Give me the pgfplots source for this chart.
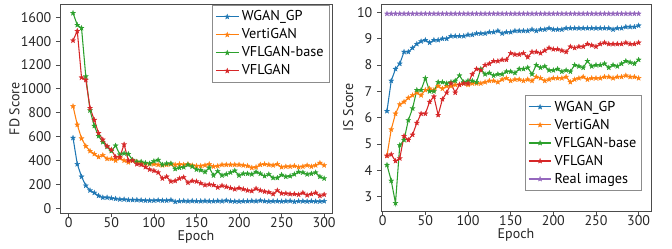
\documentclass[border=0pt]{standalone}
\usepackage{pgfplots}
\pgfplotsset{compat=1.18}
\usepackage{pgfplotstable}
\usepackage{fontspec}
\setmainfont{PT Sans}
\definecolor{c0}{HTML}{1F77B4}
\definecolor{c1}{HTML}{FF7F0E}
\definecolor{c2}{HTML}{2CA02C}
\definecolor{c3}{HTML}{D62728}
\definecolor{c4}{HTML}{9467BD}
\pgfdeclareplotmark{fstar}{%
  \pgfpathmoveto{\pgfpointpolar{90}{\pgfplotmarksize}}%
  \pgfpathlineto{\pgfpointpolar{126}{0.4\pgfplotmarksize}}%
  \pgfpathlineto{\pgfpointpolar{162}{\pgfplotmarksize}}%
  \pgfpathlineto{\pgfpointpolar{198}{0.4\pgfplotmarksize}}%
  \pgfpathlineto{\pgfpointpolar{234}{\pgfplotmarksize}}%
  \pgfpathlineto{\pgfpointpolar{270}{0.4\pgfplotmarksize}}%
  \pgfpathlineto{\pgfpointpolar{306}{\pgfplotmarksize}}%
  \pgfpathlineto{\pgfpointpolar{342}{0.4\pgfplotmarksize}}%
  \pgfpathlineto{\pgfpointpolar{18}{\pgfplotmarksize}}%
  \pgfpathlineto{\pgfpointpolar{54}{0.4\pgfplotmarksize}}%
  \pgfpathclose
  \pgfusepathqfillstroke}

\pgfplotstableread{
ep wgan verti base vfl
5 590 855 1635 1405
10 370 700 1535 1485
15 265 585 1510 1095
20 190 520 1105 1075
25 150 480 820 840
30 130 455 690 740
35 105 430 605 630
40 90 445 555 575
45 90 415 515 520
50 85 415 480 490
55 80 400 525 430
60 75 420 450 430
65 75 400 460 535
70 70 385 455 400
75 70 400 405 400
80 70 390 390 370
85 68 380 390 365
90 65 375 380 345
95 65 370 375 325
100 65 370 395 315
105 68 365 405 300
110 65 360 365 250
115 65 365 375 265
120 70 370 375 225
125 55 365 330 230
130 60 370 340 250
135 62 365 345 260
140 60 370 365 215
145 62 360 350 230
150 60 355 325 225
155 60 355 320 210
160 62 360 305 195
165 60 370 340 200
170 60 350 275 195
175 62 355 310 175
180 60 365 275 190
185 65 365 285 180
190 60 365 300 170
195 58 365 315 160
200 58 365 275 170
205 60 360 290 160
210 60 355 290 150
215 62 340 285 145
220 60 345 305 165
225 65 365 290 150
230 60 370 270 140
235 58 365 285 135
240 60 360 255 120
245 60 370 255 150
250 58 345 280 125
255 60 350 265 125
260 62 350 270 120
265 55 355 285 120
270 60 345 305 115
275 60 350 300 130
280 58 360 285 110
285 60 350 290 120
290 58 360 300 130
295 58 380 265 105
300 60 360 250 115
}\fdtable

\pgfplotstableread{
ep wgan verti base vfl real
5 6.25 4.55 4.2 4.55 9.95
10 7.4 5.55 3.6 4.6 9.95
15 7.85 6.15 2.75 4.35 9.95
20 8.05 6.5 4.95 4.45 9.95
25 8.5 6.6 5.15 5.3 9.95
30 8.5 6.75 5.9 5.15 9.95
35 8.65 6.85 6.35 5.35 9.95
40 8.8 6.95 7.05 5.8 9.95
45 8.9 6.85 7.05 6.15 9.95
50 8.95 7.05 7.5 6.15 9.95
55 8.85 7.1 7.0 6.6 9.95
60 8.95 7.05 7.0 6.8 9.95
65 8.95 7.2 7.35 6.1 9.95
70 9.0 7.1 7.35 6.7 9.95
75 9.0 7.2 7.3 6.95 9.95
80 9.1 7.2 7.35 7.3 9.95
85 9.1 7.25 7.4 6.95 9.95
90 9.1 7.25 7.6 7.25 9.95
95 9.1 7.3 7.35 7.3 9.95
100 9.15 7.25 7.4 7.3 9.95
105 9.15 7.3 7.4 7.65 9.95
110 9.2 7.3 7.35 7.85 9.95
115 9.2 7.3 7.85 7.8 9.95
120 9.2 7.35 7.65 8.0 9.95
125 9.25 7.4 7.7 8.05 9.95
130 9.25 7.4 7.6 8.15 9.95
135 9.3 7.35 7.65 8.15 9.95
140 9.2 7.45 7.65 8.2 9.95
145 9.25 7.5 7.75 8.2 9.95
150 9.25 7.4 7.75 8.45 9.95
155 9.3 7.45 7.7 8.4 9.95
160 9.3 7.45 7.85 8.4 9.95
165 9.3 7.4 7.85 8.45 9.95
170 9.3 7.45 7.9 8.3 9.95
175 9.35 7.4 7.65 8.5 9.95
180 9.3 7.55 8.0 8.5 9.95
185 9.35 7.5 7.9 8.45 9.95
190 9.35 7.4 7.95 8.55 9.95
195 9.4 7.45 7.8 8.65 9.95
200 9.35 7.5 7.8 8.6 9.95
205 9.35 7.5 7.85 8.6 9.95
210 9.35 7.5 7.75 8.55 9.95
215 9.4 7.55 7.8 8.5 9.95
220 9.4 7.35 7.75 8.7 9.95
225 9.4 7.45 8.0 8.65 9.95
230 9.4 7.5 7.95 8.7 9.95
235 9.4 7.55 7.9 8.7 9.95
240 9.4 7.45 8.15 8.8 9.95
245 9.4 7.5 7.95 8.75 9.95
250 9.4 7.5 8.0 8.7 9.95
255 9.4 7.5 8.0 8.8 9.95
260 9.4 7.55 8.05 8.85 9.95
265 9.4 7.55 7.9 8.8 9.95
270 9.35 7.5 8.0 8.8 9.95
275 9.4 7.55 7.95 8.8 9.95
280 9.4 7.55 8.05 8.8 9.95
285 9.45 7.6 8.15 8.85 9.95
290 9.45 7.55 8.1 8.8 9.95
295 9.45 7.55 8.05 8.8 9.95
300 9.5 7.5 8.2 8.85 9.95
}\istable

\pgfplotsset{
  myaxis/.style={
    scale only axis,
    axis line style={black!70, line width=0.6pt},
    tick style={black!70, line width=0.6pt},
    tick align=outside,
    major tick length=3pt,
    xtick pos=left, ytick pos=left,
    xtick={0,50,100,150,200,250,300},
    /pgf/number format/assume math mode=true,
    /pgf/number format/1000 sep={},
    tick label style={font=\fontsize{10.5}{11}\selectfont, black!85},
    xticklabel style={inner sep=1pt, yshift=1pt},
    label style={font=\fontsize{10.5}{11}\selectfont, black!85},
    xlabel={Epoch},
    xlabel style={inner sep=1pt, yshift=0pt},
    legend style={font=\fontsize{10.7}{12}\selectfont, draw=black!45, line width=0.5pt, inner sep=2pt, row sep=0.4pt, cells={anchor=west}},
    legend cell align=left,
    every axis plot/.append style={line width=0.8pt, mark=fstar, mark size=2pt},
  },
  ser/.style={color=#1, mark options={fill=#1, draw=#1, line width=0.2pt}},
}

\begin{document}
\begin{tikzpicture}
\useasboundingbox (0,0) rectangle (504pt,186.75pt);
\begin{axis}[myaxis,
  at={(45pt,26.75pt)}, anchor=south west,
  width=204pt, height=157pt,
  xmin=-10.3, xmax=309.2, ymin=-42, ymax=1711,
  ytick={0,200,...,1600},
  ylabel={FD Score},
  ylabel style={yshift=-6pt},
  legend style={at={(0.99,0.995)}, anchor=north east},
]
\addplot[ser=c0] table[x=ep, y=wgan] {\fdtable};
\addlegendentry{WGAN\_GP}
\addplot[ser=c1] table[x=ep, y=verti] {\fdtable};
\addlegendentry{VertiGAN}
\addplot[ser=c2] table[x=ep, y=base] {\fdtable};
\addlegendentry{VFLGAN-base}
\addplot[ser=c3] table[x=ep, y=vfl] {\fdtable};
\addlegendentry{VFLGAN}
\end{axis}
\begin{axis}[myaxis,
  at={(285.75pt,28.5pt)}, anchor=south west,
  width=202.5pt, height=155.25pt,
  xmin=-2, xmax=314.5, ymin=2.45, ymax=10.32,
  ytick={3,4,...,10},
  ylabel={IS Score},
  ylabel style={yshift=-4pt},
  legend style={at={(0.967,0.098)}, anchor=south east},
]
\addplot[ser=c0] table[x=ep, y=wgan] {\istable};
\addlegendentry{WGAN\_GP}
\addplot[ser=c1] table[x=ep, y=verti] {\istable};
\addlegendentry{VertiGAN}
\addplot[ser=c2] table[x=ep, y=base] {\istable};
\addlegendentry{VFLGAN-base}
\addplot[ser=c3] table[x=ep, y=vfl] {\istable};
\addlegendentry{VFLGAN}
\addplot[ser=c4] table[x=ep, y=real] {\istable};
\addlegendentry{Real images}
\end{axis}
\end{tikzpicture}
\end{document}
